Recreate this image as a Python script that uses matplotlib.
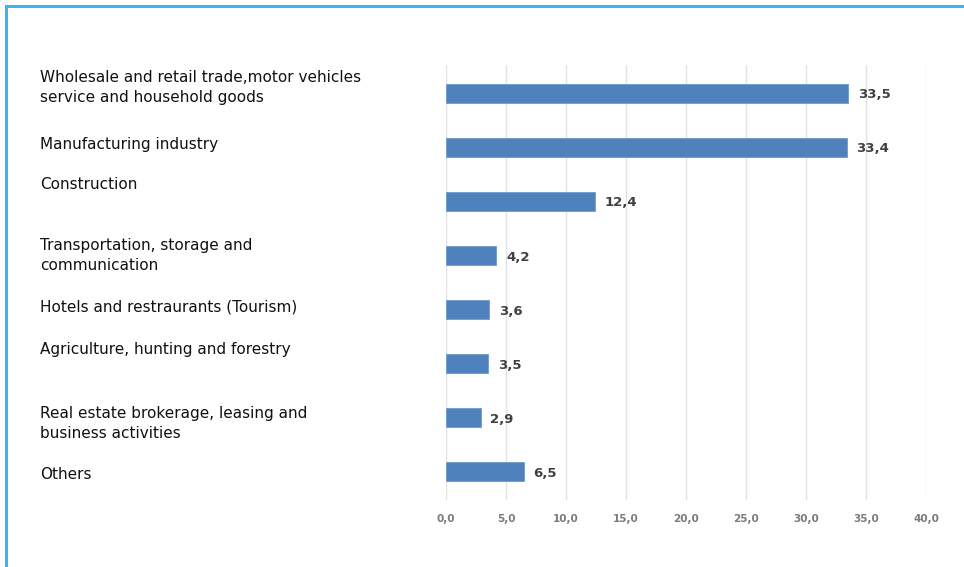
import matplotlib
matplotlib.use("Agg")
import matplotlib.pyplot as plt
import matplotlib.transforms as mtransforms
from matplotlib.patches import Rectangle

sectors = [
    "Wholesale and retail trade,motor vehicles\nservice and household goods",
    "Manufacturing industry",
    "Construction",
    "Transportation, storage and\ncommunication",
    "Hotels and restraurants (Tourism)",
    "Agriculture, hunting and forestry",
    "Real estate brokerage, leasing and\nbusiness activities",
    "Others",
]
shares = [33.5, 33.4, 12.4, 4.2, 3.6, 3.5, 2.9, 6.5]
xticks = [0, 5, 10, 15, 20, 25, 30, 35, 40]

# vertical nudges of the category labels (data units)
label_shift = [-0.11, -0.05, -0.31, 0.0, -0.05, -0.26, 0.11, 0.04]

plt.rcParams["font.family"] = ["DejaVu Sans"]

fig = plt.figure(figsize=(9.64, 5.67), dpi=100)
ax = fig.add_axes([446 / 964, 1 - 500 / 567, 480 / 964, 435 / 567])

ypos = list(range(len(shares)))
ax.barh(ypos, shares, height=0.35, color="#4f81bd", edgecolor="#6f9ad0", linewidth=0.6, zorder=3)

for y, v in zip(ypos, shares):
    ax.text(v + 0.8, y + 0.03, f"{v:.1f}".replace(".", ","), va="center", ha="left",
            fontsize=9.5, fontweight="bold", color="#404040")

ax.set_xlim(0, 40)
ax.set_ylim(len(shares) - 0.48, -0.52)
ax.set_xticks(xticks)
ax.set_xticklabels([f"{t:.1f}".replace(".", ",") for t in xticks], fontsize=7.5,
                   color="#7a7a7a", fontweight="bold")
ax.tick_params(axis="x", length=0, pad=10)
ax.set_yticks([])
ax.grid(axis="x", color="#e3e3e3", linewidth=1, zorder=0)
for s in ax.spines.values():
    s.set_visible(False)

trans = mtransforms.blended_transform_factory(fig.transFigure, ax.transData)
for y, name, dy in zip(ypos, sectors, label_shift):
    ax.text(40 / 964, y + dy, name, transform=trans, ha="left", va="center",
            fontsize=11, color="#111111", linespacing=1.4)

# outer frame of the chart box
fig.patches.append(Rectangle((6 / 964, -0.1), 1.2, 1 - 6 / 567 + 0.1, transform=fig.transFigure,
                             fill=False, edgecolor="#3cb4f0", linewidth=2.2))

fig.savefig("out.png", dpi=100)
